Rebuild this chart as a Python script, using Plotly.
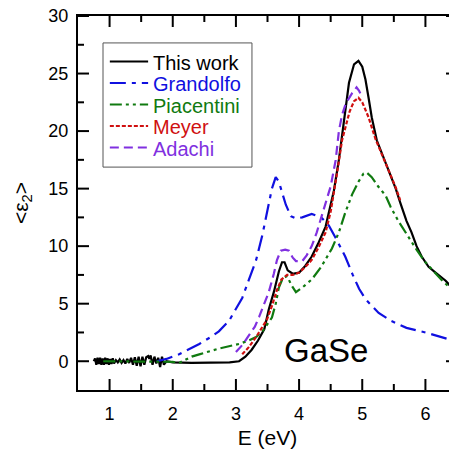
import plotly.graph_objects as go

# ---------------- data ----------------
this_x = [0.75,0.77,0.79,0.81,0.83,0.85,0.87,0.89,0.91,0.93,0.95,0.97,0.99,1.01,1.03,1.05,1.07,1.10,1.13,1.16,1.19,1.22,1.25,1.28,1.31,1.34,1.37,1.40,1.43,1.46,1.49,1.52,1.55,1.58,1.61,1.63,1.65,1.68,1.71,1.74,1.77,1.80,1.83,1.86,1.90,2.0,2.3,2.6,2.9,3.05,3.15,3.25,3.35,3.45,3.52,3.6,3.68,3.73,3.77,3.82,3.9,4.0,4.1,4.2,4.3,4.42,4.5,4.55,4.63,4.71,4.79,4.87,4.94,5.0,5.05,5.1,5.15,5.23,5.3,5.37,5.45,5.53,5.6,5.7,5.78,5.86,5.94,6.05,6.16,6.25,6.32,6.4,6.5]
this_y = [0.0,0.25,-0.3,0.3,-0.25,0.3,-0.3,0.25,-0.3,0.3,-0.25,0.25,-0.3,0.2,-0.25,0.25,-0.2,0.1,-0.1,0.15,-0.15,0.1,-0.2,0.2,-0.15,0.3,-0.3,0.35,-0.4,0.4,-0.45,0.4,-0.3,0.35,0.45,0.2,0.5,-0.3,0.4,-0.2,0.3,-0.5,0.4,-0.3,0.0,-0.1,-0.15,-0.15,-0.1,0.0,0.4,1.0,1.8,2.8,4.5,6.0,7.8,8.6,8.6,7.9,7.6,7.7,8.3,9.1,10.2,11.7,13.5,14.8,17.5,21.0,24.2,25.8,26.1,25.6,24.5,22.9,21.2,19.2,18.2,17.3,16.2,15.0,13.8,12.2,11.2,10.0,9.1,8.2,7.7,7.3,7.0,6.5,5.9]

gran_x = [1.75,1.9,2.1,2.25,2.42,2.6,2.73,2.89,3.0,3.1,3.2,3.32,3.42,3.5,3.57,3.63,3.68,3.74,3.79,3.87,3.95,4.05,4.2,4.35,4.47,4.6,4.73,4.85,4.95,5.05,5.26,5.46,5.7,6.0,6.25,6.5]
gran_y = [0.0,0.2,0.6,1.0,1.5,2.1,2.6,3.5,4.5,5.5,7.0,8.8,11.0,13.2,15.0,16.0,15.6,14.5,13.6,12.6,12.4,12.5,12.8,12.5,11.8,10.5,9.1,7.5,6.3,5.4,4.2,3.5,2.9,2.5,2.1,1.7]

piac_x = [0.9,1.2,1.5,1.8,2.0,2.1,2.2,2.3,2.42,2.6,2.73,2.89,3.05,3.2,3.32,3.42,3.5,3.57,3.63,3.68,3.74,3.81,3.88,3.95,4.05,4.2,4.35,4.52,4.63,4.73,4.84,4.94,5.02,5.07,5.15,5.25,5.37,5.45,5.57,5.73,5.87,6.0,6.1,6.25,6.5]
piac_y = [0.0,0.0,0.0,0.0,-0.05,-0.15,0.1,0.4,0.6,0.9,1.1,1.3,1.5,1.8,2.1,2.6,3.2,3.8,5.0,6.4,7.2,7.4,6.6,6.0,6.4,7.1,8.2,9.8,11.2,12.9,14.5,15.6,16.3,16.4,16.0,15.2,14.4,13.4,12.2,10.8,9.6,8.6,8.0,7.1,5.8]

meyer_x = [3.1,3.2,3.32,3.42,3.49,3.57,3.65,3.72,3.81,3.9,4.0,4.1,4.2,4.3,4.42,4.5,4.55,4.6,4.68,4.75,4.8,4.87,4.94,5.0,5.1,5.21,5.3,5.37,5.45,5.53,5.6]
meyer_y = [0.6,1.2,2.1,3.0,3.6,4.8,6.2,7.1,7.5,7.5,7.7,8.2,8.8,9.8,11.2,13.0,14.6,16.3,19.2,20.8,21.7,22.6,22.9,22.5,21.2,19.3,18.1,17.3,16.2,15.1,14.0]

adachi_x = [3.0,3.1,3.2,3.3,3.37,3.45,3.52,3.6,3.65,3.71,3.78,3.84,3.9,3.95,4.05,4.12,4.2,4.28,4.36,4.43,4.5,4.58,4.63,4.68,4.74,4.84,4.91,4.95,5.0]
adachi_y = [0.8,1.4,2.2,3.0,3.9,5.0,6.0,7.6,8.8,9.6,9.7,9.6,9.0,8.7,8.7,9.2,10.0,11.2,12.6,13.9,15.2,17.5,20.0,21.4,22.4,23.3,23.8,23.5,22.9]

series_names = ["This work", "Grandolfo", "Piacentini", "Meyer", "Adachi"]

x_ticks = [1, 2, 3, 4, 5, 6]
x_minor = [1.5, 2.5, 3.5, 4.5, 5.5]
y_ticks = [0, 5, 10, 15, 20, 25, 30]
y_minor = [2.5, 7.5, 12.5, 17.5, 22.5, 27.5]

X_RANGE = [0.5, 6.5]
Y_RANGE = [-2.5, 30]

# ---------------- styles ----------------
FONT = "Arial, Liberation Sans, sans-serif"
colors = ["black", "#1010e0", "#107a10", "#d01010", "#8030e0"]
dashes = ["solid", "16px,6px,4px,6px", "12px,4px,3px,4px,3px,4px", "4px,2px", "9px,5px"]
LW = 2.2

W, H = 449, 443
ML, MR, MT, MB = 70, 0, 8, 61
PW, PH = W - ML - MR, H - MT - MB

series = [(this_x, this_y), (gran_x, gran_y), (piac_x, piac_y), (meyer_x, meyer_y), (adachi_x, adachi_y)]

fig = go.Figure()
for (sx, sy), nm, c, d in zip(series, series_names, colors, dashes):
    fig.add_trace(go.Scatter(x=sx, y=sy, mode="lines", name=nm, showlegend=False,
                             line=dict(color=c, width=LW, dash=d)))

# ---- tick marks (inside, all four sides), one helper trace ----
MAJ, MIN = 11, 6
px_x = (X_RANGE[1] - X_RANGE[0]) / PW   # data units per pixel along x
px_y = (Y_RANGE[1] - Y_RANGE[0]) / PH   # data units per pixel along y
tx, ty = [], []
for xv, ln in [(v, MAJ) for v in x_ticks] + [(v, MIN) for v in x_minor]:
    tx += [xv, xv, None, xv, xv, None]
    ty += [Y_RANGE[0], Y_RANGE[0] + ln * px_y, None, Y_RANGE[1], Y_RANGE[1] - ln * px_y, None]
for yv, ln in [(v, MAJ) for v in y_ticks] + [(v, MIN) for v in y_minor]:
    tx += [X_RANGE[0], X_RANGE[0] + ln * px_x, None, X_RANGE[1], X_RANGE[1] - ln * px_x, None]
    ty += [yv, yv, None, yv, yv, None]
fig.add_trace(go.Scatter(x=tx, y=ty, mode="lines", showlegend=False, hoverinfo="skip",
                         line=dict(color="black", width=2), cliponaxis=False))

fig.add_annotation(x=4.42, y=0.9, text="GaSe", showarrow=False,
                   font=dict(family=FONT, size=33, color="black"))

# ---- legend box (paper coordinates) ----
LEG_X0, LEG_X1, LEG_Y0, LEG_Y1 = 0.066, 0.459, 0.596, 0.928
fig.add_shape(type="rect", xref="paper", yref="paper", x0=LEG_X0, x1=LEG_X1, y0=LEG_Y0, y1=LEG_Y1,
              line=dict(color="#555555", width=1), fillcolor="white", layer="above")
row_top, row_step = 0.8784, 0.0575
for i, (nm, c, d) in enumerate(zip(series_names, colors, dashes)):
    yy = row_top - i * row_step
    fig.add_shape(type="line", xref="paper", yref="paper", x0=0.084, x1=0.185, y0=yy, y1=yy,
                  line=dict(color=c, width=LW, dash=d))
    fig.add_annotation(xref="paper", yref="paper", x=0.192, y=yy - 0.003, text=nm,
                       showarrow=False, xanchor="left", yanchor="middle",
                       font=dict(family=FONT, size=20, color=c))

axis_common = dict(showline=True, linecolor="black", linewidth=2, mirror=True,
                   ticks="", showgrid=False, zeroline=False, automargin=False,
                   ticklabeloverflow="allow",
                   tickfont=dict(family=FONT, size=18, color="black"))

fig.update_xaxes(range=X_RANGE, tickvals=x_ticks, ticktext=[str(v) for v in x_ticks],
                 ticklabelstandoff=6,
                 title=dict(text="E (eV)", font=dict(family=FONT, size=21, color="black"), standoff=8),
                 **axis_common)
fig.update_yaxes(range=Y_RANGE, tickvals=y_ticks, ticktext=[str(v) for v in y_ticks],
                 ticklabelstandoff=4,
                 title=dict(text="&lt;ε<sub>2</sub>&gt;", font=dict(family=FONT, size=21, color="black"), standoff=14),
                 **axis_common)

# the page adds an 8px body margin, so the figure is 8px smaller and shifted
fig.update_layout(
    template="none",
    width=W, height=H,
    margin=dict(l=ML, r=MR, t=MT, b=MB),
    paper_bgcolor="white", plot_bgcolor="white",
    showlegend=False,
)

fig.write_html("out.html")
